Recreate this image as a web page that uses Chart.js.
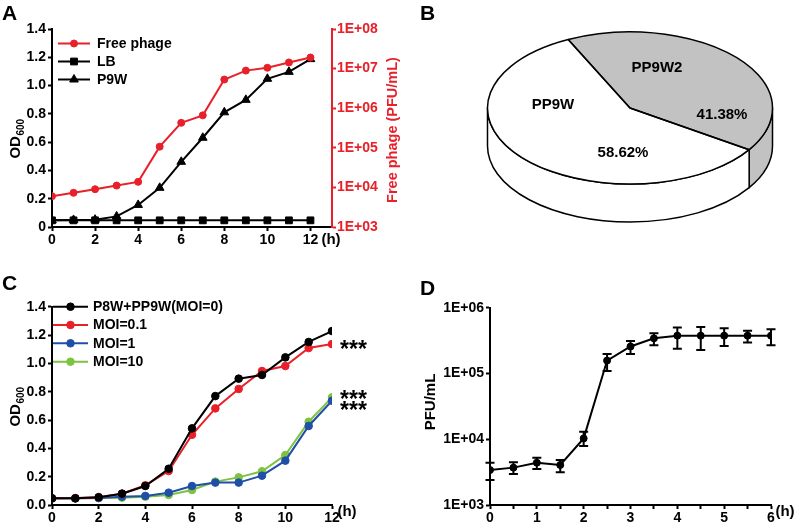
<!DOCTYPE html>
<html><head><meta charset="utf-8">
<script src="https://cdn.jsdelivr.net/npm/chart.js@4.4.1/dist/chart.umd.min.js"></script>
<style>
html,body{margin:0;padding:0;background:#fff;}
body{width:796px;height:527px;position:relative;overflow:hidden;font-family:'Liberation Sans',Arial,sans-serif;}
canvas{position:absolute;}
.letter{position:absolute;font:bold 21px 'Liberation Sans',Arial,sans-serif;line-height:21px;color:#000;}
</style></head><body>
<canvas id="cA" width="405" height="265" style="left:0;top:0"></canvas>
<canvas id="cB" width="376" height="265" style="left:420px;top:0"></canvas>
<canvas id="cC" width="405" height="257" style="left:0;top:270px"></canvas>
<canvas id="cD" width="396" height="257" style="left:400px;top:270px"></canvas>
<div class="letter" style="left:2px;top:2px">A</div>
<div class="letter" style="left:420px;top:2px">B</div>
<div class="letter" style="left:2px;top:272px">C</div>
<div class="letter" style="left:420px;top:277px">D</div>
<script>
// ---------- data ----------
const hoursA = [0,1,2,3,4,5,6,7,8,9,10,11,12];
const freePhage = [6.0e3,7.3e3,9.0e3,1.11e4,1.38e4,1.07e5,4.27e5,6.6e5,5.3e6,8.9e6,1.05e7,1.43e7,1.91e7];
const odLB = [0.047,0.047,0.047,0.047,0.047,0.047,0.047,0.047,0.047,0.047,0.047,0.047,0.047];
const odP9W = [0.047,0.050,0.052,0.075,0.156,0.277,0.461,0.631,0.811,0.899,1.048,1.097,1.187];
const xTicksA = [0,2,4,6,8,10,12];
const yTicksOD = [0,0.2,0.4,0.6,0.8,1.0,1.2,1.4];
const logTicksA = [1e3,1e4,1e5,1e6,1e7,1e8];

const pieLabels = ['PP9W2','PP9W'];
const pieValues = [41.38, 58.62];
const pieText = ['41.38%','58.62%'];

const hoursC = [0,1,2,3,4,5,6,7,8,9,10,11,12];
const moi0  = [0.047,0.047,0.055,0.080,0.134,0.256,0.541,0.769,0.892,0.918,1.042,1.151,1.228];
const moi01 = [0.047,0.049,0.055,0.080,0.139,0.240,0.496,0.682,0.819,0.946,0.981,1.108,1.136];
const moi1  = [0.047,0.047,0.049,0.059,0.064,0.087,0.134,0.158,0.158,0.207,0.313,0.558,0.736];
const moi10 = [0.047,0.047,0.049,0.052,0.059,0.071,0.106,0.165,0.195,0.238,0.353,0.588,0.760];
const seriesC = ['P8W+PP9W(MOI=0)','MOI=0.1','MOI=1','MOI=10'];
const xTicksC = [0,2,4,6,8,10,12];

const hoursD = [0,0.5,1,1.5,2,2.5,3,3.5,4,4.5,5,5.5,6];
const pfuD   = [3.4e3,3.7e3,4.4e3,4.06e3,1.03e4,1.57e5,2.57e5,3.42e5,3.76e5,3.76e5,3.76e5,3.76e5,3.76e5];
const pfuHi  = [4.4e3,4.45e3,5.25e3,4.83e3,1.30e4,1.98e5,3.12e5,4.08e5,5.0e5,5.1e5,4.86e5,4.48e5,4.69e5];
const pfuLo  = [2.4e3,2.96e3,3.53e3,3.14e3,7.9e3,1.09e5,1.98e5,2.68e5,2.38e5,2.27e5,2.62e5,2.97e5,2.68e5];
const logTicksD = [1e3,1e4,1e5,1e6];

// ---------- style ----------
const FONT = "'Liberation Sans', Arial, sans-serif";
const RED = '#e8202a', BLACK = '#000000', BLUE = '#1f4fa6', GREEN = '#7fc241', GRAY = '#c2c2c2';
const TICK = 14;
Chart.defaults.font.family = FONT;
Chart.defaults.font.weight = 'bold';
Chart.defaults.font.size = TICK;
Chart.defaults.color = '#000';
Chart.defaults.animation = false;

function pts(xs, ys){ return xs.map((x,i)=>({x:x, y:ys[i]})); }
function sup(n){ return '1E+0' + Math.round(Math.log10(n)); }

function marker(ctx, style, r, x, y, color){
  ctx.save();
  ctx.fillStyle = color; ctx.strokeStyle = color; ctx.lineWidth = 1;
  if (Chart.helpers && Chart.helpers.drawPoint) {
    Chart.helpers.drawPoint(ctx, {pointStyle: style, radius: r, rotation: 0, borderWidth: 1}, x, y);
  } else {
    ctx.beginPath(); ctx.arc(x, y, r, 0, Math.PI*2); ctx.fill();
  }
  ctx.restore();
}

function axisStyle(color, w){
  return {
    grid: {display: true, drawOnChartArea: false, drawTicks: true, tickLength: 4, tickWidth: w, color: color},
    border: {display: true, color: color, width: w}
  };
}

function makeTexts(items){
  return { id: 'texts', afterDraw(chart){
    const ctx = chart.ctx;
    items.forEach(it => {
      ctx.save();
      ctx.fillStyle = it.color || '#000';
      ctx.translate(it.x, it.y);
      if (it.rotate) ctx.rotate(it.rotate * Math.PI / 180);
      const main = 'bold ' + it.size + 'px ' + FONT;
      ctx.textBaseline = 'middle';
      if (it.sub) {
        const subF = 'bold ' + it.subSize + 'px ' + FONT;
        ctx.font = main; const w1 = ctx.measureText(it.text).width;
        ctx.font = subF; const w2 = ctx.measureText(it.sub).width;
        const s = -(w1 + w2) / 2;
        ctx.textAlign = 'left';
        ctx.font = main; ctx.fillText(it.text, s, 0);
        ctx.font = subF; ctx.fillText(it.sub, s + w1 + 0.5, it.size * 0.38);
      } else {
        ctx.font = main; ctx.textAlign = it.align || 'center';
        ctx.fillText(it.text, 0, 0);
      }
      ctx.restore();
    });
  }};
}

function makeLegend(cfg){
  return { id: 'mylegend', afterDraw(chart){
    const ctx = chart.ctx;
    chart.data.datasets.forEach((ds, i) => {
      const y = cfg.ys[i];
      ctx.save();
      ctx.strokeStyle = ds.borderColor; ctx.lineWidth = 2;
      ctx.beginPath(); ctx.moveTo(cfg.x0, y); ctx.lineTo(cfg.x1, y); ctx.stroke();
      marker(ctx, ds.pointStyle, ds.pointRadius, (cfg.x0 + cfg.x1) / 2, y, ds.borderColor);
      ctx.fillStyle = '#000'; ctx.font = 'bold ' + cfg.size + 'px ' + FONT;
      ctx.textBaseline = 'middle'; ctx.textAlign = 'left';
      ctx.fillText(ds.label, cfg.tx, y + 0.5);
      ctx.restore();
    });
  }};
}

// ---------- Panel A ----------
new Chart(document.getElementById('cA'), {
  type: 'line',
  data: { datasets: [
    {label: 'Free phage', data: pts(hoursA, freePhage), yAxisID: 'y2', borderColor: RED, backgroundColor: RED,
     pointStyle: 'circle', pointRadius: 3.5, pointBorderWidth: 1, borderWidth: 2},
    {label: 'LB', data: pts(hoursA, odLB), yAxisID: 'y', borderColor: BLACK, backgroundColor: BLACK,
     pointStyle: 'rect', pointRadius: 4.8, pointBorderWidth: 1, borderWidth: 2},
    {label: 'P9W', data: pts(hoursA, odP9W), yAxisID: 'y', borderColor: BLACK, backgroundColor: BLACK,
     pointStyle: 'triangle', pointRadius: 5, pointBorderWidth: 1, borderWidth: 2}
  ]},
  options: {
    responsive: false, animation: false,
    layout: {padding: {top: 29, left: 0, right: 0, bottom: 0}},
    plugins: {legend: {display: false}, tooltip: {enabled: false}},
    scales: {
      x: Object.assign({type: 'linear', min: 0, max: 13,
        afterFit: s => { s.height = 38; },
        afterBuildTicks: s => { s.ticks = xTicksA.map(v => ({value: v})); },
        ticks: {padding: 1, font: {size: TICK, weight: 'bold'}, color: '#000', maxRotation: 0}}, axisStyle('#000', 2)),
      y: Object.assign({type: 'linear', position: 'left', min: 0, max: 1.4,
        afterFit: s => { s.width = 52; },
        afterBuildTicks: s => { s.ticks = yTicksOD.map(v => ({value: v})); },
        ticks: {padding: 2, font: {size: TICK, weight: 'bold'}, color: '#000', callback: v => v === 0 ? '0' : v.toFixed(1)}}, axisStyle('#000', 2)),
      y2: Object.assign({type: 'logarithmic', position: 'right', min: 1e3, max: 1e8,
        afterFit: s => { s.width = 73; },
        afterBuildTicks: s => { s.ticks = logTicksA.map(v => ({value: v})); },
        ticks: {padding: 1, font: {size: TICK, weight: 'bold'}, color: RED, callback: v => sup(v)}}, axisStyle(RED, 2))
    }
  },
  plugins: [
    makeLegend({x0: 58, x1: 90, tx: 97, ys: [43.5, 61.5, 79.5], size: 14}),
    makeTexts([
      {text: 'OD', sub: '600', size: 15, subSize: 10, x: 16, y: 139, rotate: -90},
      {text: 'Free phage (PFU/mL)', size: 14.5, x: 393, y: 130, rotate: -90, color: RED},
      {text: '(h)', size: 15, x: 331, y: 240}
    ])
  ]
});

// ---------- Panel B (3D pie) ----------
const PIE = {rx: 142.5, ry: 76, depth: 38};
const pie3d = {
  id: 'pie3d',
  beforeDatasetsDraw(chart){
    const ctx = chart.ctx, meta = chart.getDatasetMeta(0), a = meta.data[0];
    const cx = a.x, cy = a.y, R = a.outerRadius;
    const colors = chart.data.datasets[0].backgroundColor;
    ctx.save();
    ctx.lineWidth = 1.5; ctx.strokeStyle = '#000'; ctx.lineJoin = 'round';
    meta.data.forEach((arc, i) => {
      [-1, 0, 1].forEach(k => {
        const s = Math.max(arc.startAngle + k * 2 * Math.PI, 0);
        const e = Math.min(arc.endAngle + k * 2 * Math.PI, Math.PI);
        if (e > s + 1e-6) {
          ctx.beginPath();
          ctx.ellipse(cx, cy, PIE.rx, PIE.ry, 0, s, e, false);
          ctx.lineTo(cx + PIE.rx * Math.cos(e), cy + PIE.depth + PIE.ry * Math.sin(e));
          ctx.ellipse(cx, cy + PIE.depth, PIE.rx, PIE.ry, 0, e, s, true);
          ctx.closePath();
          ctx.fillStyle = colors[i]; ctx.fill(); ctx.stroke();
        }
      });
    });
    ctx.restore();
    ctx.save();
    ctx.translate(cx, cy); ctx.scale(PIE.rx / R, PIE.ry / R); ctx.translate(-cx, -cy);
  },
  afterDatasetsDraw(chart){
    const ctx = chart.ctx;
    ctx.restore();
    const meta = chart.getDatasetMeta(0), a = meta.data[0];
    const cx = a.x, cy = a.y;
    ctx.save();
    ctx.lineWidth = 1.5; ctx.strokeStyle = '#000'; ctx.lineJoin = 'round';
    meta.data.forEach(arc => {
      ctx.beginPath();
      ctx.moveTo(cx, cy);
      ctx.ellipse(cx, cy, PIE.rx, PIE.ry, 0, arc.startAngle, arc.endAngle, false);
      ctx.closePath(); ctx.stroke();
    });
    ctx.fillStyle = '#000'; ctx.font = 'bold 15px ' + FONT;
    ctx.textAlign = 'center'; ctx.textBaseline = 'middle';
    const offs = [[27, -40, pieLabels[0]], [92, 7, pieText[0]], [-77, -3, pieLabels[1]], [-7, 45, pieText[1]]];
    offs.forEach(o => ctx.fillText(o[2], cx + o[0], cy + o[1]));
    ctx.restore();
  }
};
new Chart(document.getElementById('cB'), {
  type: 'pie',
  data: {labels: pieLabels, datasets: [{data: pieValues, backgroundColor: [GRAY, '#ffffff'], borderWidth: 0}]},
  options: {
    responsive: false, animation: false, rotation: -25.7,
    layout: {padding: {left: 110, right: 66, top: 8, bottom: 57}},
    plugins: {legend: {display: false}, tooltip: {enabled: false}}
  },
  plugins: [pie3d]
});

// ---------- Panel C ----------
const colorsC = [BLACK, RED, BLUE, GREEN];
const valsC = [moi0, moi01, moi1, moi10];
const starsC = {
  id: 'stars', afterDraw(chart){
    const ctx = chart.ctx, ys = chart.scales.y, last = hoursC.length - 1;
    const rows = [[moi01[last], 0], [moi10[last], -3], [moi1[last], 4]];
    ctx.save(); ctx.fillStyle = '#000'; ctx.font = 'bold 23px ' + FONT;
    ctx.textAlign = 'left'; ctx.textBaseline = 'alphabetic';
    rows.forEach(r => ctx.fillText('***', 340, ys.getPixelForValue(r[0]) + r[1] + 13));
    ctx.restore();
  }
};
new Chart(document.getElementById('cC'), {
  type: 'line',
  data: { datasets: seriesC.map((name, i) => ({
    label: name, data: pts(hoursC, valsC[i]), borderColor: colorsC[i], backgroundColor: colorsC[i],
    pointStyle: 'circle', pointRadius: 3.8, pointBorderWidth: 1, borderWidth: 2
  })) },
  options: {
    responsive: false, animation: false,
    layout: {padding: {top: 36.7, left: 0, right: 73, bottom: 0}},
    plugins: {legend: {display: false}, tooltip: {enabled: false}},
    scales: {
      x: Object.assign({type: 'linear', min: 0, max: 12,
        afterFit: s => { s.height = 22; },
        afterBuildTicks: s => { s.ticks = xTicksC.map(v => ({value: v})); },
        ticks: {padding: 1, font: {size: TICK, weight: 'bold'}, color: '#000', maxRotation: 0}}, axisStyle('#000', 2)),
      y: Object.assign({type: 'linear', min: 0, max: 1.4,
        afterFit: s => { s.width = 52; },
        afterBuildTicks: s => { s.ticks = yTicksOD.map(v => ({value: v})); },
        ticks: {padding: 2, font: {size: TICK, weight: 'bold'}, color: '#000', callback: v => v.toFixed(1)}}, axisStyle('#000', 2))
    }
  },
  plugins: [
    makeLegend({x0: 53, x1: 88, tx: 93, ys: [36.7, 55, 73.3, 91.7], size: 14}),
    makeTexts([
      {text: 'OD', sub: '600', size: 15, subSize: 10, x: 16, y: 137, rotate: -90},
      {text: '(h)', size: 15, x: 347, y: 242}
    ]),
    starsC
  ]
});

// ---------- Panel D ----------
const errBars = {
  id: 'errbars', afterDatasetsDraw(chart){
    const ctx = chart.ctx, xs = chart.scales.x, ys = chart.scales.y;
    ctx.save(); ctx.strokeStyle = '#000'; ctx.lineWidth = 2;
    hoursD.forEach((h, i) => {
      const x = xs.getPixelForValue(h), y1 = ys.getPixelForValue(pfuHi[i]), y2 = ys.getPixelForValue(pfuLo[i]);
      ctx.beginPath();
      ctx.moveTo(x, y1); ctx.lineTo(x, y2);
      ctx.moveTo(x - 4.5, y1); ctx.lineTo(x + 4.5, y1);
      ctx.moveTo(x - 4.5, y2); ctx.lineTo(x + 4.5, y2);
      ctx.stroke();
    });
    ctx.restore();
  }
};
new Chart(document.getElementById('cD'), {
  type: 'line',
  data: { datasets: [{label: 'PFU/mL', data: pts(hoursD, pfuD), borderColor: BLACK, backgroundColor: BLACK,
    pointStyle: 'circle', pointRadius: 3.5, pointBorderWidth: 1, borderWidth: 2}] },
  options: {
    responsive: false, animation: false,
    layout: {padding: {top: 37.7, left: 0, right: 25, bottom: 0}},
    plugins: {legend: {display: false}, tooltip: {enabled: false}},
    scales: {
      x: Object.assign({type: 'linear', min: 0, max: 6,
        afterFit: s => { s.height = 22; },
        afterBuildTicks: s => { s.ticks = hoursD.map(v => ({value: v})); },
        ticks: {padding: 1, font: {size: TICK, weight: 'bold'}, color: '#000', maxRotation: 0, autoSkip: false,
          callback: v => Number.isInteger(v) ? String(v) : ''}}, axisStyle('#000', 2)),
      y: Object.assign({type: 'logarithmic', min: 1e3, max: 1e6,
        afterFit: s => { s.width = 90; },
        afterBuildTicks: s => { s.ticks = logTicksD.map(v => ({value: v})); },
        ticks: {padding: 2, font: {size: TICK, weight: 'bold'}, color: '#000', callback: v => sup(v)}}, axisStyle('#000', 2))
    }
  },
  plugins: [
    errBars,
    makeTexts([
      {text: 'PFU/mL', size: 15, x: 31, y: 132, rotate: -90},
      {text: '(h)', size: 15, x: 385, y: 242}
    ])
  ]
});
</script>
</body></html>
